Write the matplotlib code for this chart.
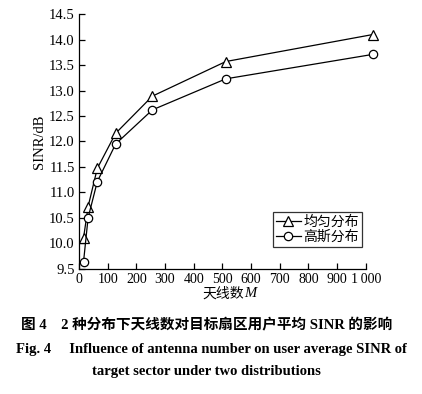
import matplotlib
matplotlib.use("Agg")
import matplotlib.pyplot as plt
from matplotlib.ticker import MultipleLocator, FuncFormatter

antennas = [16, 32, 64, 128, 256, 512, 1024]
uniform = [10.10, 10.72, 11.47, 12.16, 12.89, 13.57, 14.10]
gauss = [9.63, 10.50, 11.21, 11.95, 12.62, 13.23, 13.71]
series_labels = ["均匀分布", "高斯分布"]

serif = ["Liberation Serif", "Noto Sans CJK SC", "DejaVu Serif"]
cjk = ["Noto Sans CJK SC", "DejaVu Sans"]

fig = plt.figure(figsize=(4.22, 3.94), dpi=100)
ax = fig.add_axes([0.187, 0.318, 0.680, 0.646])

ax.plot(antennas, uniform, color="black", lw=0.9, marker="^", ms=6.5,
        mfc="white", mec="black", mew=0.9, label=series_labels[0], clip_on=False)
ax.plot(antennas, gauss, color="black", lw=0.9, marker="o", ms=6,
        mfc="white", mec="black", mew=0.9, label=series_labels[1], clip_on=False)

ax.set_xlim(0, 1000)
ax.set_ylim(9.5, 14.5)
ax.xaxis.set_major_locator(MultipleLocator(100))
ax.yaxis.set_major_locator(MultipleLocator(0.5))
ax.xaxis.set_major_formatter(FuncFormatter(lambda v, p: "1\u2009000" if int(round(v)) == 1000 else f"{int(round(v))}"))
ax.yaxis.set_major_formatter(FuncFormatter(lambda v, p: f"{v:.1f}"))
for s in ["top", "right"]:
    ax.spines[s].set_visible(False)
for s in ["left", "bottom"]:
    ax.spines[s].set_linewidth(0.9)
ax.tick_params(direction="in", length=4, width=0.9, labelsize=10, pad=3)
ax.tick_params(axis="y", labelsize=10.5)
for lab in ax.get_xticklabels() + ax.get_yticklabels():
    lab.set_fontfamily(serif)

ax.set_ylabel("SINR/dB", fontsize=10.5, family=serif, labelpad=2)

# x label: CJK part plus italic M
xsplit = 0.578
fig.text(xsplit, 0.255, "天线数", ha="right", va="center", fontsize=10, family=cjk)
fig.text(xsplit, 0.255, "M", ha="left", va="center", fontsize=10.5,
         family=serif, style="italic")

leg = ax.legend(loc="lower right", bbox_to_anchor=(0.995, 0.075), prop={"family": cjk, "size": 10},
                frameon=True, fancybox=False, edgecolor="black", handlelength=1.8,
                handletextpad=0.2, borderpad=0.2, labelspacing=0.1, borderaxespad=0.2)
leg.get_frame().set_linewidth(0.9)

fig.text(0.49, 0.175, "图 4    2 种分布下天线数对目标扇区用户平均 SINR 的影响",
         ha="center", va="center", fontsize=10.5, fontweight="bold", family=serif)
fig.text(0.5, 0.114, "Fig. 4     Influence of antenna number on user average SINR of",
         ha="center", va="center", fontsize=10.5, fontweight="bold", family=serif)
fig.text(0.49, 0.056, "target sector under two distributions",
         ha="center", va="center", fontsize=10.5, fontweight="bold", family=serif)

fig.savefig("out.png", dpi=100)
